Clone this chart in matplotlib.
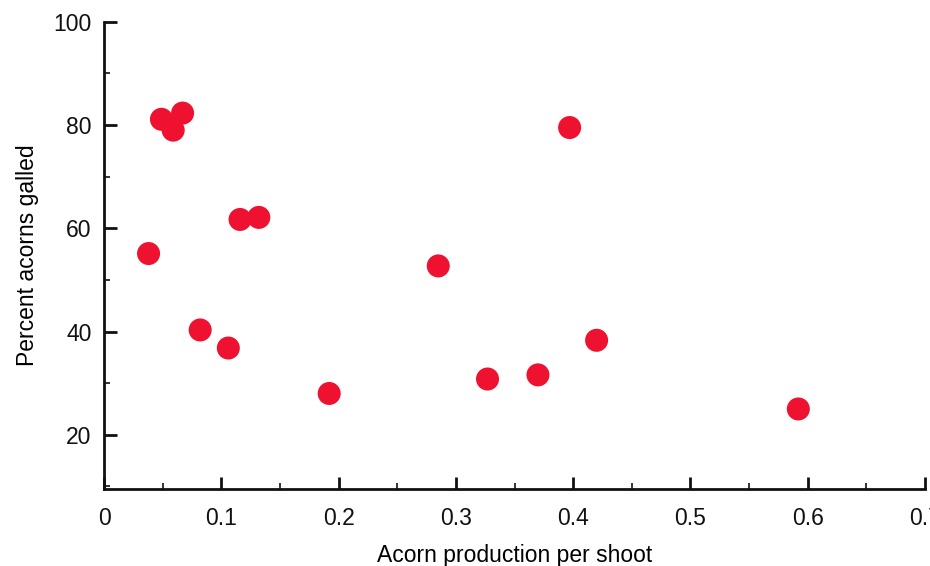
import matplotlib
matplotlib.use("Agg")
import matplotlib.pyplot as plt
from matplotlib.ticker import MultipleLocator

acorn_production = [0.038, 0.049, 0.059, 0.067, 0.116, 0.132, 0.082, 0.106,
                    0.192, 0.285, 0.327, 0.370, 0.397, 0.420, 0.592]
percent_galled = [55.1, 81.1, 79.0, 82.3, 61.7, 62.1, 40.3, 36.8,
                  28.0, 52.7, 30.8, 31.6, 79.5, 38.3, 25.0]
x_ticks = [0, 0.1, 0.2, 0.3, 0.4, 0.5, 0.6, 0.7]
x_tick_labels = ["0", "0.1", "0.2", "0.3", "0.4", "0.5", "0.6", "0.7"]
y_ticks = [20, 40, 60, 80, 100]

plt.rcParams['font.family'] = ['Liberation Sans', 'DejaVu Sans']

fig = plt.figure(figsize=(9.3, 5.66), dpi=100)
ax = fig.add_axes([104/930, 1-489/566, (925-104)/930, (489-21.7)/566])

ax.scatter(acorn_production, percent_galled, s=275, color='#ee1230',
           edgecolors='none', zorder=3)

ax.set_xlim(0, 0.7)
ax.set_ylim(9.5, 100)
ax.set_xticks(x_ticks)
ax.set_xticklabels(x_tick_labels)
ax.set_yticks(y_ticks)
ax.xaxis.set_minor_locator(MultipleLocator(0.05))
ax.yaxis.set_minor_locator(MultipleLocator(10))

for s in ['top', 'right']:
    ax.spines[s].set_visible(False)
for s in ['left', 'bottom']:
    ax.spines[s].set_linewidth(2.0)
    ax.spines[s].set_color('#111111')

ax.tick_params(axis='both', which='major', direction='in', length=9, width=2,
               labelsize=16.5, colors='#111111')
ax.tick_params(axis='x', which='major', pad=13)
ax.tick_params(axis='y', which='major', pad=9)
ax.tick_params(axis='both', which='minor', direction='in', length=4, width=1.2,
               colors='#111111')

ax.set_xlabel("Acorn production per shoot", fontsize=16.5, labelpad=10)
ax.set_ylabel("Percent acorns galled", fontsize=16.5, labelpad=10)

fig.savefig("out.png", dpi=100)
